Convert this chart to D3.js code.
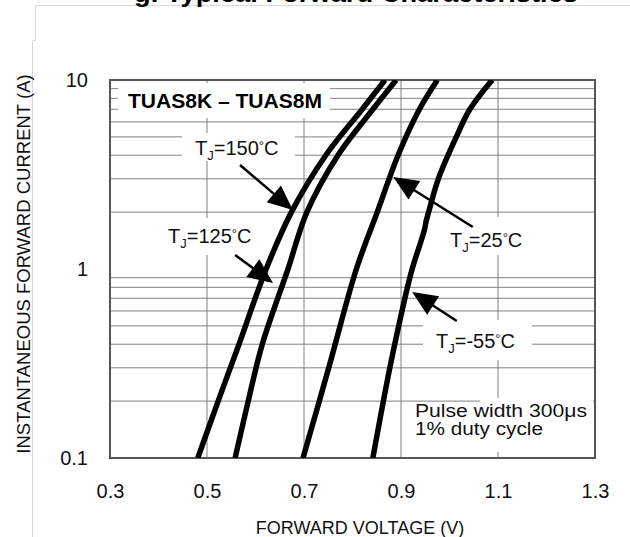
<!DOCTYPE html>
<html><head><meta charset="utf-8">
<script src="https://cdn.jsdelivr.net/npm/d3@7/dist/d3.min.js"></script>
<style>html,body{margin:0;padding:0;background:#fff;}svg{display:block;font-family:"Liberation Sans",Arial,Helvetica,sans-serif;}</style>
</head><body>
<svg id="chart" width="630" height="537"></svg>
<script>
// ---- data ----
const voltageTicks = [0.3, 0.5, 0.7, 0.9, 1.1, 1.3];
const currentTicks = [0.1, 1, 10];
const voltageGrid = [0.5, 0.7, 0.9, 1.1];
const currentGrid = [0.2,0.3,0.4,0.5,0.6,0.7,0.8,0.9,2,3,4,5,6,7,8,9];

const current150 = [0.1, 0.2, 0.4, 1, 2, 4, 7, 10];
const voltage150 = [0.481, 0.523, 0.566, 0.622, 0.674, 0.745, 0.820, 0.867];

const current125 = [0.1, 0.2, 0.4, 1, 2, 4, 7, 10];
const voltage125 = [0.558, 0.585, 0.614, 0.667, 0.706, 0.770, 0.842, 0.890];

const current25 = [0.1, 0.3, 1, 2, 4, 7, 10];
const voltage25 = [0.698, 0.751, 0.808, 0.851, 0.894, 0.938, 0.975];

const currentM55 = [0.1, 0.3, 0.7, 1, 1.6, 1.8, 2, 3, 5, 7, 10];
const voltageM55 = [0.842, 0.877, 0.908, 0.923, 0.948, 0.952, 0.957, 0.977, 1.014, 1.042, 1.088];

const seriesNames = ["150", "125", "25", "-55"];

// ---- layout ----
const svg = d3.select("#chart");
const L = 110, R = 595, T = 80, B = 458;
const x = d3.scaleLinear().domain([0.3, 1.3]).range([L, R]);
const y = d3.scaleLog().domain([0.1, 10]).range([B, T]);

// outer faint border
svg.append("path").attr("d", "M630,5.5H35.5V40.5H32.5V537")
  .attr("fill","none").attr("stroke","#d8d8d8").attr("stroke-width",1);

// cut-off title
svg.append("text").attr("x",134).attr("y",1.5)
  .attr("font-size",26).attr("font-weight","bold")
  .attr("textLength",444).attr("lengthAdjust","spacingAndGlyphs")
  .text("g. Typical Forward Characteristics");

// grid
const g = svg.append("g");
g.selectAll(".hg").data(currentGrid).join("line")
  .attr("x1",L).attr("x2",R).attr("y1",d=>y(d)).attr("y2",d=>y(d))
  .attr("stroke","#808080").attr("stroke-width",1);
g.selectAll(".vg").data(voltageGrid).join("line")
  .attr("y1",T).attr("y2",B).attr("x1",d=>x(d)).attr("x2",d=>x(d))
  .attr("stroke","#808080").attr("stroke-width",1);

// label backgrounds
const boxes = [[118,83,212,35],[182,133,113,28],[160,218,105,37],[440,217,95,38],[423,320,109,40],[412,404,181,48],[480,398,113,8]];
svg.selectAll(".bx").data(boxes).join("rect")
  .attr("x",d=>d[0]).attr("y",d=>d[1]).attr("width",d=>d[2]).attr("height",d=>d[3])
  .attr("fill","#fff");

// frame
svg.append("rect").attr("x",L).attr("y",T).attr("width",R-L).attr("height",B-T)
  .attr("fill","none").attr("stroke","#555").attr("stroke-width",2);

// axes labels
const xAxis = d3.axisBottom(x).tickValues(voltageTicks).tickSize(0).tickPadding(26).tickFormat(d3.format(".1f"));
const xa = svg.append("g").attr("transform",`translate(0,${B})`).call(xAxis);
xa.select(".domain").remove();
xa.selectAll("text").attr("font-size",20).attr("fill","#111").attr("font-family","Liberation Sans, Arial, sans-serif");

const yAxis = d3.axisLeft(y).tickValues(currentTicks).tickSize(0).tickPadding(22).tickFormat(d=>String(d));
const ya = svg.append("g").attr("transform",`translate(${L},0)`).call(yAxis);
ya.select(".domain").remove();
ya.selectAll("text").attr("font-size",20).attr("fill","#111").attr("font-family","Liberation Sans, Arial, sans-serif");

svg.append("text").attr("x",360).attr("y",534).attr("text-anchor","middle")
  .attr("font-size",18).attr("fill","#111").text("FORWARD VOLTAGE (V)");
svg.append("text").attr("transform","translate(30,264) rotate(-90)").attr("text-anchor","middle")
  .attr("font-size",18.5).attr("fill","#111").text("INSTANTANEOUS FORWARD CURRENT (A)");

// curves
svg.append("clipPath").attr("id","plotclip").append("rect")
  .attr("x",L).attr("y",T).attr("width",R-L).attr("height",B-T);
const curves = [
  d3.zip(voltage150, current150),
  d3.zip(voltage125, current125),
  d3.zip(voltage25, current25),
  d3.zip(voltageM55, currentM55)
];
const line = d3.line().x(d=>x(d[0])).y(d=>y(d[1])).curve(d3.curveCatmullRom.alpha(0.5));
svg.append("g").attr("clip-path","url(#plotclip)")
  .selectAll("path").data(curves).join("path")
  .attr("d",line).attr("fill","none").attr("stroke","#000").attr("stroke-width",5.5)
  .attr("stroke-linejoin","round");

// arrows (tail, tip in data coordinates)
const arrows = [
  [[0.568,3.55],[0.677,2.05]],
  [[0.558,1.186],[0.636,0.843]],
  [[1.048,1.667],[0.884,3.07]],
  [[1.015,0.531],[0.923,0.756]]
];
arrows.forEach(a=>{
  const x0=x(a[0][0]), y0=y(a[0][1]), x1=x(a[1][0]), y1=y(a[1][1]);
  const dx=x1-x0, dy=y1-y0, len=Math.hypot(dx,dy), ux=dx/len, uy=dy/len;
  const hl=25, hw=11;
  const bx=x1-ux*hl, by=y1-uy*hl;
  svg.append("line").attr("x1",x0).attr("y1",y0).attr("x2",bx+ux*2).attr("y2",by+uy*2)
    .attr("stroke","#000").attr("stroke-width",2.5);
  svg.append("path").attr("d",`M${x1},${y1}L${bx-uy*hw},${by+ux*hw}L${bx+uy*hw},${by-ux*hw}Z`)
    .attr("fill","#000");
});

// labels
svg.append("text").attr("x",128).attr("y",108).attr("font-size",20).attr("font-weight","bold")
  .attr("textLength",194).attr("lengthAdjust","spacingAndGlyphs").text("TUAS8K – TUAS8M");

function tjLabel(px, py, temp){
  const t = svg.append("text").attr("x",px).attr("y",py).attr("font-size",20).attr("fill","#111");
  t.append("tspan").text("T");
  t.append("tspan").attr("font-size",13).attr("dy",5).text("J");
  t.append("tspan").attr("dy",-5).text("=" + temp);
  t.append("tspan").attr("font-size",13).attr("dy",-5).text("°");
  t.append("tspan").attr("dy",5).text("C");
}
tjLabel(195,155,seriesNames[0]);
tjLabel(168,243,seriesNames[1]);
tjLabel(450,247,seriesNames[2]);
tjLabel(436,348,seriesNames[3]);

svg.append("text").attr("x",415).attr("y",417).attr("font-size",17.5).attr("fill","#111")
  .attr("textLength",172).attr("lengthAdjust","spacingAndGlyphs").text("Pulse width 300μs");
svg.append("text").attr("x",415).attr("y",435).attr("font-size",17.5).attr("fill","#111")
  .attr("textLength",128).attr("lengthAdjust","spacingAndGlyphs").text("1% duty cycle");
</script>
</body></html>
